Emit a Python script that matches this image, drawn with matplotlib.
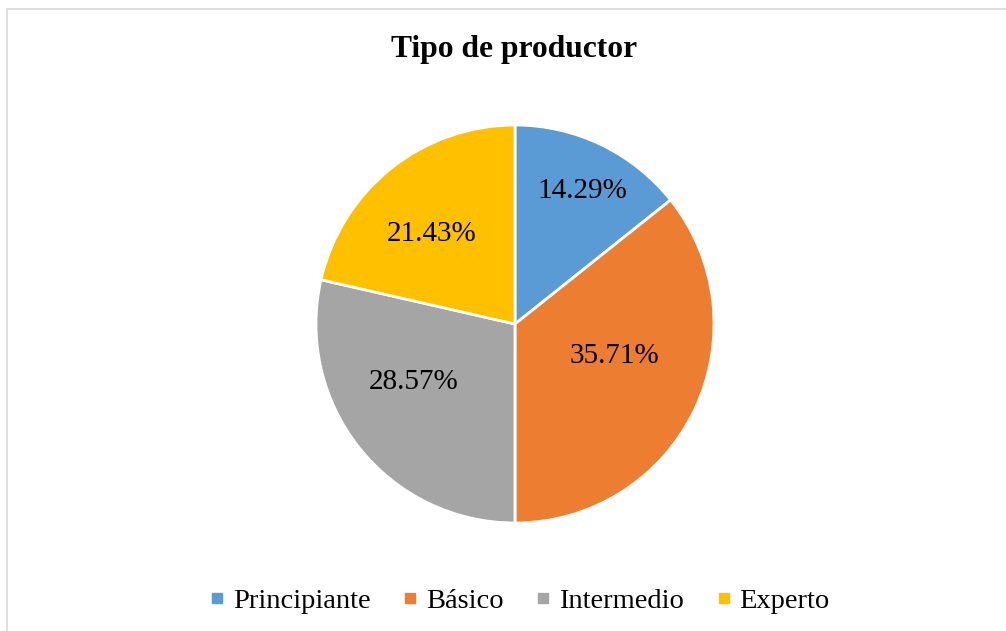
import matplotlib
matplotlib.use("Agg")
import matplotlib.pyplot as plt
from matplotlib.patches import Rectangle
from matplotlib.lines import Line2D

categories = ["Principiante", "Básico", "Intermedio", "Experto"]
values = [14.29, 35.71, 28.57, 21.43]
colors = ["#5B9BD5", "#ED7D31", "#A5A5A5", "#FFC000"]
title = "Tipo de productor"

W, H = 1006, 631
fig = plt.figure(figsize=(W / 100, H / 100), dpi=100)
plt.rcParams['font.family'] = ['Liberation Serif', 'DejaVu Serif']

# chart area border (light gray), extends beyond right/bottom edges
fig.patches.append(Rectangle((7 / W, -0.1), 1.2, (H - 9) / H + 0.1,
                             transform=fig.transFigure, fill=False,
                             edgecolor="#D9D9D9", linewidth=1.2, clip_on=False))

cx, cy, r = 515, 324, 199
ax = fig.add_axes([(cx - r) / W, (H - cy - r) / H, 2 * r / W, 2 * r / H])
wedges, texts, autotexts = ax.pie(values, colors=colors, startangle=90, counterclock=False,
                                  autopct=lambda p: f"{p:.2f}%", pctdistance=0.6,
                                  wedgeprops=dict(edgecolor="white", linewidth=2),
                                  textprops=dict(fontsize=21, color="black"))
ax.set_xlim(-1, 1)
ax.set_ylim(-1, 1)
ax.set_aspect('auto')

# label placements (Excel-style best fit), in axis units of the radius
label_pos = [(0.34, 0.67), (0.50, -0.16), (-0.51, -0.29), (-0.42, 0.45)]
for t, pos in zip(autotexts, label_pos):
    t.set_position(pos)

fig.text(514 / W, (H - 49) / H, title, ha="center", va="center",
         fontsize=22.7, fontweight="bold")

handles = [Line2D([], [], marker="s", linestyle="none", markersize=6.5,
                  markerfacecolor=c, markeredgecolor=c) for c in colors]
fig.legend(handles, categories, loc="center", bbox_to_anchor=(0.516, (H - 601) / H),
           ncol=4, frameon=False, fontsize=20.5, handlelength=0.6,
           handletextpad=0.25, columnspacing=1.1)

fig.savefig("out.png", dpi=100)
